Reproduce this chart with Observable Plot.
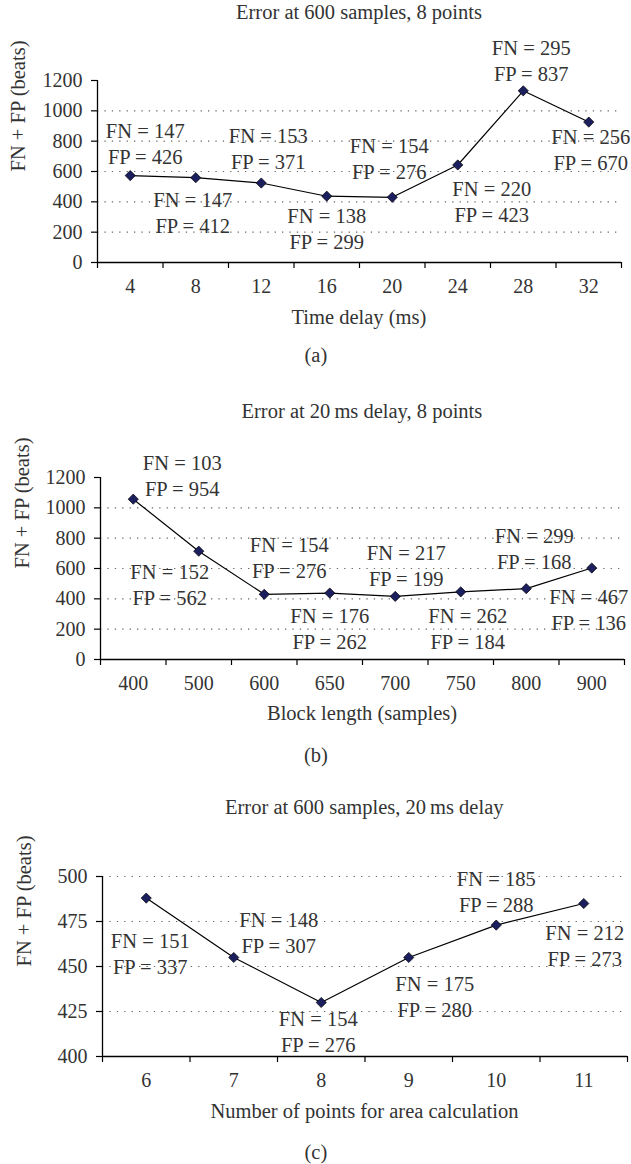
<!DOCTYPE html>
<html><head><meta charset="utf-8">
<script src="https://cdn.jsdelivr.net/npm/d3@7"></script>
<script src="https://cdn.jsdelivr.net/npm/@observablehq/plot@0.6"></script>
<style>
body{margin:0;background:#fff;}
#root{position:relative;width:631px;height:1164px;overflow:hidden;font-family:"Liberation Serif","Times New Roman",serif;color:#333;}
.t{position:absolute;text-align:center;font-size:20.5px;line-height:24px;white-space:nowrap;}
#root svg{position:absolute;left:0;overflow:visible;background:transparent !important;}
#root svg, #root svg text, #root svg tspan, #root svg g{font-family:"Liberation Serif","Times New Roman",serif !important;}
</style></head><body><div id="root"></div>
<script>
// ---- Panel (a): Error at 600 samples, 8 points
const delayCats = ["4","8","12","16","20","24","28","32"];
const delayFN = [147,147,153,138,154,220,295,256];
const delayFP = [426,412,371,299,276,423,837,670];
const delayTicks = [0,200,400,600,800,1000,1200];
const delayGrid = [200,400,600,800,1000];

// ---- Panel (b): Error at 20 ms delay, 8 points
const blockCats = ["400","500","600","650","700","750","800","900"];
const blockFN = [103,152,154,176,217,262,299,467];
const blockFP = [954,562,276,262,199,184,168,136];
const blockTicks = [0,200,400,600,800,1000,1200];
const blockGrid = [200,400,600,800,1000];

// ---- Panel (c): Error at 600 samples, 20 ms delay
const pointsCats = ["6","7","8","9","10","11"];
const pointsFN = [151,148,154,175,185,212];
const pointsFP = [337,307,276,280,288,273];
const pointsTicks = [400,425,450,475,500];
const pointsGrid = [425,450,475,500];

// label nudges (px, label-block centre relative to its point)
const nudgeA = [[15,-33],[-3,34],[7,-35],[0,31],[-3,-40],[34,36],[8,-31],[2,27]];
const nudgeB = [[49,-25],[-29,32],[25,-38],[0,35],[11,-32],[7,36],[8,-41],[-3,41]];
const nudgeC = [[4,55],[45,-26],[-3,28],[26,38],[0,-34],[1,41]];

const root = document.getElementById("root");
const W = 631;
const FONT = '"Liberation Serif","Times New Roman",serif';

function addText(txt, cx, cy) {
  const d = document.createElement("div");
  d.className = "t";
  d.textContent = txt;
  root.appendChild(d);
  d.style.left = (cx - d.offsetWidth / 2) + "px";
  d.style.top = (cy - 12) + "px";
}

function panel(cfg) {
  const n = cfg.cats.length;
  const rows = cfg.cats.map((c, i) => ({i, v: cfg.fn[i] + cfg.fp[i]}));
  const svgTop = cfg.yTopPx - 55;
  const svgBottom = cfg.yBotPx + 40;
  const bounds = d3.range(n + 1).map(k => k - 0.5);
  const labelMarks = cfg.cats.map((c, i) =>
    Plot.text([rows[i]], {x: "i", y: "v", text: () => `FN = ${cfg.fn[i]}\nFP = ${cfg.fp[i]}`,
      dx: cfg.nudge[i][0], dy: cfg.nudge[i][1], lineHeight: 1.27, lineAnchor: "middle",
      textAnchor: "middle", fill: "#333", fontSize: 20.5, fontFamily: FONT}));
  const chart = Plot.plot({
    width: W,
    height: svgBottom - svgTop,
    marginTop: cfg.yTopPx - svgTop,
    marginBottom: svgBottom - cfg.yBotPx,
    marginLeft: cfg.axisLeft,
    marginRight: W - cfg.axisRight,
    style: `font-family:${FONT};font-size:20px;color:#333;background:transparent;overflow:visible;`,
    x: {domain: [-0.5, n - 0.5], axis: null},
    y: {domain: cfg.yDomain, axis: null},
    marks: [
      Plot.ruleY(cfg.grid, {stroke: "#666", strokeWidth: 1.1, strokeDasharray: "1.3,6.1"}),
      Plot.axisY({ticks: cfg.yTicks, tickSize: 6, tickPadding: 9, tickFormat: d => String(d), label: null,
        stroke: "#000", strokeWidth: 1.2, fill: "#333", fontSize: 20, fontFamily: FONT}),
      Plot.axisX({ticks: bounds, tickSize: 6, tickFormat: () => "", label: null, stroke: "#000", strokeWidth: 1.2}),
      Plot.axisX({ticks: d3.range(n), tickSize: 0, tickPadding: 16, tickFormat: k => cfg.cats[k], label: null,
        fill: "#333", fontSize: 20, fontFamily: FONT}),
      Plot.ruleY([cfg.yDomain[0]], {stroke: "#000", strokeWidth: 1.3}),
      Plot.ruleX([-0.5], {stroke: "#000", strokeWidth: 1.3}),
      Plot.line(rows, {x: "i", y: "v", stroke: "#000", strokeWidth: 1.2}),
      Plot.dot(rows, {x: "i", y: "v", symbol: "diamond2", r: 4.6, fill: "#1c1f5e", stroke: "#000", strokeWidth: 0.7}),
      ...labelMarks,
      Plot.text(["FN + FP (beats)"], {frameAnchor: "left", rotate: -90, dx: cfg.ylabelX - cfg.axisLeft,
        fill: "#333", fontSize: 20.5, fontFamily: FONT})
    ]
  });
  chart.style.top = svgTop + "px";
  root.appendChild(chart);
  const plotCx = (cfg.axisLeft + cfg.axisRight) / 2;
  addText(cfg.title, plotCx, cfg.titleY);
  addText(cfg.xlabel, plotCx, cfg.xlabelY);
  addText(cfg.caption, W / 2 + 0.5, cfg.captionY);
}

panel({cats: delayCats, fn: delayFN, fp: delayFP, nudge: nudgeA, yTicks: delayTicks, grid: delayGrid,
  yDomain: [0, 1200], yTopPx: 80, yBotPx: 262, axisLeft: 97, axisRight: 621, ylabelX: 18,
  title: "Error at 600 samples, 8 points", titleY: 12, xlabel: "Time delay (ms)", xlabelY: 317,
  caption: "(a)", captionY: 355});
panel({cats: blockCats, fn: blockFN, fp: blockFP, nudge: nudgeB, yTicks: blockTicks, grid: blockGrid,
  yDomain: [0, 1200], yTopPx: 477, yBotPx: 659, axisLeft: 100, axisRight: 624, ylabelX: 22,
  title: "Error at 20\u2009ms delay, 8 points", titleY: 411, xlabel: "Block length (samples)", xlabelY: 713,
  caption: "(b)", captionY: 755});
panel({cats: pointsCats, fn: pointsFN, fp: pointsFP, nudge: nudgeC, yTicks: pointsTicks, grid: pointsGrid,
  yDomain: [400, 500], yTopPx: 876, yBotPx: 1056, axisLeft: 102, axisRight: 627, ylabelX: 24,
  title: "Error at 600 samples, 20\u2009ms delay", titleY: 807, xlabel: "Number of points for area calculation", xlabelY: 1111,
  caption: "(c)", captionY: 1152});
</script></body></html>
